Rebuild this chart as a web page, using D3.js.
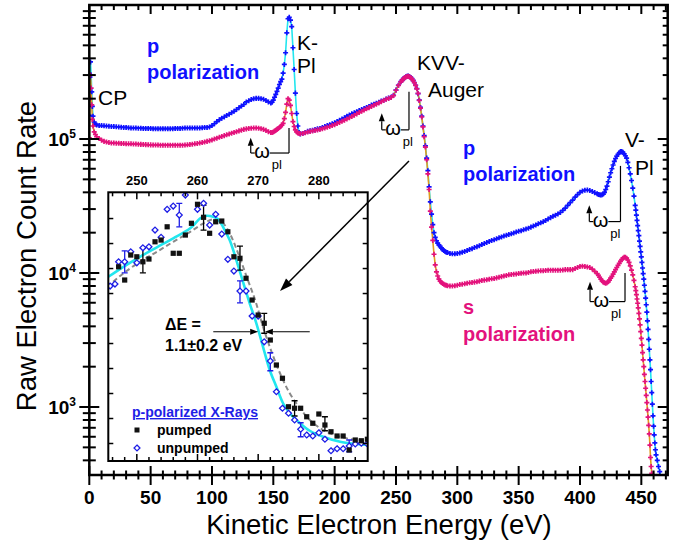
<!DOCTYPE html>
<html>
<head>
<meta charset="utf-8">
<script src="https://d3js.org/d3.v7.min.js"></script>
<style>
  body { margin: 0; background: #fff; }
  text { font-family: "Liberation Sans", Arial, sans-serif; }
</style>
</head>
<body>
<svg id="chart" width="686" height="549"></svg>
<script>
// main spectra: [kinetic energy (eV), count rate (10^3 counts)]
const pPolarization = [
  [0,150],[0.5,290],[1,376],[1.5,300],[2,225],[2.5,175],[3,148],[4,134],[5,129],[6,127],
  [8,126],[10,126],[12,125.5],[14,125],[16,124.5],[18,124],[20,124],[22,123.5],[24,123],[26,122.5],[28,122],[30,122],
  [32,121.5],[34,121],[36,121],[38,121],[40,120.5],[42,120.5],[44,120],[46,120],[48,120],[50,120],[52,119.5],[54,119.5],
  [56,119.5],[58,119.5],[60,119.5],[62,119.5],[64,119.5],[66,119.5],[68,119.5],[70,120],[72,120],[74,120],[76,120.5],
  [78,121],[80,121],[82,121],[84,121],[86,121],[88,121],[90,121],[92,121.5],[94,122],[96,122],[98,123],[100,126],
  [102,130],[104,135],[106,139],[108,143],[110,146],[112,150],[114,153],[116,157],[118,161],[120,166],[122,171],
  [124,176],[126,181],[128,189],[130,193],[132,197],[134,200],[136,201],[138,201],[140,200],[142,198],[144,194],
  [146,189],[148,186],
  [149,188],[150,195],[151,205],[152,215],[153,227],[154,240],[155,255],[156,268],[157,280],[158,310],[159,360],
  [160,440],[161,620],[162,790],[163,810],[164,770],[165,690],[166,480],[167,330],[168,220],[169,155],[170,125],
  [171,112],[172,109],
  [174,110],[176,112],[178,114],[180,115],[182,116],[184,117.5],[186,119],[188,120],[190,122],[192,124],[194,126],
  [196,128],[198,130],[200,132],[202,135],[204,138],[206,141],[208,144],[210,148],[212,151],[214,154],[216,157],
  [218,160],[220,163],[222,166],[224,169],[226,172],[228,175],[230,179],[232,182],[234,185],[236,188],[238,192],
  [240,195],[242,199],[244,202],[246,205],[248,212],[250,232],[252,252],[254,268],
  [255,275],[256,282],[257,287],[258,291],[259,294],[260,295],[261,293],[262,288],[263,282],[264,274],[265,264],
  [266,252],[267,238],[268,218],[269,195],[270,172],[271,148],[272,125],[273,106],[274,89],[275,72],[276,58],
  [277,44],[278,34],[279,27.5],[280,23],[281,20],[282,18.5],[283,17.4],[284,16.7],[285,16.2],[286,15.8],[287,15.4],
  [288,15.0],[289,14.7],[290,14.5],[291,14.3],[292,14.2],
  [294,14.0],[296,13.9],[298,13.9],[300,14.0],[302,14.1],[304,14.3],[306,14.5],[308,14.7],[310,15.0],[312,15.2],
  [314,15.5],[316,15.7],[318,16.0],[320,16.3],[322,16.6],[324,16.9],[326,17.2],[328,17.5],[330,17.7],[332,18.0],
  [334,18.3],[336,18.6],[338,18.9],[340,19.1],[342,19.4],[344,19.6],[346,19.9],[348,20.2],[350,20.5],[352,20.7],
  [354,21.0],[356,21.3],[358,21.6],[360,22.0],[362,22.4],[364,22.8],[366,23.3],[368,23.7],[370,24.1],[372,24.7],
  [374,25.3],[376,25.9],[378,26.5],[380,27.0],[382,27.6],[384,28.3],[386,29.3],[388,30.5],[390,32.0],[392,33.5],
  [394,35.0],[396,36.8],[398,38.5],[400,40.0],[402,41.0],[404,41.5],[406,41.6],[408,41.3],[410,40.6],[412,39.8],
  [414,39.0],[415,38.6],[416,38.3],[417,38.2],[418,38.3],[419,38.8],[420,40.0],[421,42.0],[422,44.5],[423,48],
  [424,52],[425,56],[426,60],[427,64],[428,68],[429,71.5],[430,74.5],[431,77],[432,79],[433,80.5],[434,80.5],
  [435,79.5],[436,77.5],[437,75],[438,72],[439,67],[440,61],[441,55],[442,49],[443,43],[444,37.5],[445,32],
  [445.5,29.5],[446,27],[446.5,24.7],[447,22.6],[447.5,20.7],[448,19],[448.5,17.3],[449,15.8],[449.5,14.4],
  [450,13.2],[450.5,12],[451,10.9],[451.5,9.9],[452,9.0],[452.5,8.1],[453,7.3],[453.5,6.5],[454,5.8],[454.5,5.1],
  [455,4.4],[455.5,3.8],[456,3.2],[456.5,2.7],[457,2.25],[457.5,1.9],[458,1.55],[458.5,1.28],[459,1.05],
  [459.5,0.86],[460,0.72],[460.5,0.62],[461,0.54],[461.5,0.48],[462,0.44],[463,0.4],[464,0.36],[465,0.33],[466,0.3]
];

const sPolarization = [
  [0,102],[0.5,200],[1,300],[1.5,240],[2,180],[2.5,140],[3,125],[4,113],[5,108],[6,104],
  [8,101],[10,98],[12,96],[14,95],[16,94],[18,93.5],[20,93.2],[22,93],[24,92.8],[26,92.6],[28,92.4],[30,92.2],
  [32,92],[34,92],[36,91.8],[38,91.6],[40,91.4],[42,91.2],[44,91],[46,90.8],[48,90.6],[50,90.4],[52,90.3],
  [54,90.2],[56,90.1],[58,90],[60,90],[62,90],[64,90],[66,90],[68,90],[70,90],[72,90],[74,90],[76,90],[78,90.2],
  [80,90.5],[82,91],[84,91.5],[86,92],[88,92.6],[90,93.3],[92,94],[94,95],[96,96],[98,97],[100,98.5],[102,100],
  [104,101.5],[106,103],[108,104.5],[110,106],[112,107.5],[114,109],[116,110.5],[118,112],[120,113.5],[122,115],
  [124,116.5],[126,118],[128,119],[130,120],[132,120.5],[134,121],[136,121],[138,120.5],[140,119.5],[142,118],
  [144,116],[146,113.5],[148,112],
  [149,112],[150,113],[151,114.5],[152,116],[153,118],[154,120],[155,122],[156,124],[157,127],[158,131],[159,142],
  [160,158],[161,182],[162,200],[163,195],[164,178],[165,155],[166,135],[167,124],[168,117],[169,113],[170,111],
  [171,110],[172,109.5],
  [174,110],[176,111.5],[178,113],[180,114],[182,115],[184,116],[186,117],[188,118],[190,119.5],[192,121],
  [194,122.5],[196,124],[198,126],[200,128],[202,130.5],[204,133],[206,135.5],[208,138],[210,141],[212,144],
  [214,147],[216,150.5],[218,154],[220,157.5],[222,161],[224,164.5],[226,168],[228,171.5],[230,175],[232,178.5],
  [234,182],[236,186],[238,190],[240,194],[242,198],[244,201],[246,204],[248,211],[250,231],[252,251],[254,267],
  [255,274],[256,281],[257,286],[258,290],[259,293],[260,294],[261,292],[262,287],[263,281],[264,273],[265,263],
  [266,251],[267,237],[268,219],[269,194],[270,170],[271,146],[272,123],[273,104],[274,87],[275,70],[276,55],
  [277,42],[278,29],[279,22],[280,17.5],[281,13.8],[282,11.5],[283,10.2],[284,9.5],[285,9.0],[286,8.7],[287,8.5],
  [288,8.35],[289,8.25],[290,8.15],[291,8.1],[292,8.05],
  [294,8.0],[296,8.0],[298,8.05],[300,8.1],[302,8.2],[304,8.25],[306,8.3],[308,8.4],[310,8.45],[312,8.5],
  [314,8.55],[316,8.6],[318,8.7],[320,8.8],[322,8.85],[324,8.9],[326,9.0],[328,9.05],[330,9.1],[332,9.2],
  [334,9.3],[336,9.4],[338,9.5],[340,9.6],[342,9.7],[344,9.75],[346,9.8],[348,9.85],[350,9.9],[352,9.95],
  [354,10.0],[356,10.0],[358,10.1],[360,10.2],[362,10.25],[364,10.3],[366,10.35],[368,10.4],[370,10.4],
  [372,10.45],[374,10.5],[376,10.5],[378,10.5],[380,10.5],[382,10.5],[384,10.5],[386,10.55],[388,10.6],
  [390,10.6],[392,10.6],[394,10.6],[396,10.8],[398,11.0],[400,11.2],[402,11.25],[404,11.2],[406,11.1],[408,11.0],
  [410,10.7],[412,10.3],[414,9.9],[415,9.6],[416,9.3],[417,9.0],[418,8.75],[419,8.55],[420,8.45],[421,8.4],
  [422,8.45],[423,8.6],[424,8.85],[425,9.15],[426,9.45],[427,9.8],[428,10.2],[429,10.6],[430,11.0],[431,11.4],
  [432,11.8],[433,12.2],[434,12.6],[435,12.9],[436,13.1],[437,13.1],[438,12.9],[439,12.5],[440,12.0],[441,11.3],
  [442,10.5],[443,9.7],[444,8.8],[445,7.9],
  [445.5,7.4],[446,6.9],[446.5,6.4],[447,5.95],[447.5,5.5],[448,5.0],[448.5,4.55],[449,4.1],[449.5,3.65],
  [450,3.25],[450.5,2.9],[451,2.55],[451.5,2.25],[452,2.0],[452.5,1.75],[453,1.55],[453.5,1.38],[454,1.22],
  [454.5,1.08],[455,0.95],[455.5,0.84],[456,0.73],[456.5,0.63],[457,0.52],[457.5,0.42],[458,0.36],[458.5,0.32],
  [459,0.29]
];

// inset (KVV edge), intensity in arbitrary linear units
const insetPumped = [
  [247,8.07],[248,7.54],[249,8.54],[250,8.47],[251,8.27],[252,8.38],[253,9.07],[254,9.14],[255,9.67],[256,8.61],
  [257,8.61],[258,9.34],[259,9.81],[260,10.57],[261,10.05],[262,9.41],[263,9.87],[264,9.90],[265,9.47],[266,8.47],
  [267,8.41],[268,7.61],[269,6.74],[270,6.14],[271,5.81],[272,5.14],[273,4.14],[274,3.61],[275,2.47],[276,2.41],
  [277,2.41],[278,2.07],[279,1.81],[280,2.18],[281,1.74],[282,1.47],[283,1.30],[284,1.30],[285,0.74],[286,1.14],
  [287,1.11],[288,1.17]
];
const insetUnpumped = [
  [245.6,7.30],[246.4,7.38],[247,8.27],[248,8.27],[249,8.67],[250,8.23],[251,8.83],[252,8.87],[253,9.54],[254,9.25],
  [255,10.37],[256,10.50],[257,10.14],[258,10.94],[260,10.37],[261,10.61],[262,9.74],[263,10.17],[264,9.38],
  [265,8.37],[266,7.90],[267,7.10],[268,7.10],[269,6.10],[270,6.10],[271,5.07],[272,4.30],[273,3.07],[274,2.41],
  [275,2.21],[276,1.94],[277,1.57],[278,1.34],[279,1.30],[280,1.43],[281,1.17],[282,0.71],[283,0.79],[284,0.79],
  [285,0.90],[286,0.98],[287,1.01],[288,0.98]
];
// [energy, low, high]
const pumpedErrors = [[251,7.83,8.81],[261,9.54,10.54],[267,7.94,8.90],[271,5.41,6.21],[276,2.10,2.71],[281,1.51,2.07]];
const unpumpedErrors = [[248,7.83,8.71],[257,9.67,10.61],[267,6.63,7.51],[272,3.91,4.63],[277,1.27,1.83],[285,0.67,1.14]];
const unpumpedFit = [
  [245.3,7.67],[247.8,8.07],[250.5,8.47],[253.3,8.85],[256,9.21],[258.8,9.61],[260.4,10.0],[261.2,10.1],
  [262.6,10.07],[263.4,9.97],[264.2,9.67],[265.3,9.14],[266.4,8.34],[267.5,7.47],[268.6,6.61],[269.7,5.81],
  [270.8,4.87],[271.9,3.94],[273,3.27],[274.1,2.61],[275.2,2.21],[276.9,1.81],[278.5,1.51],[280.7,1.27],
  [283.5,1.07],[286.2,0.98],[288,0.94]
];
const pumpedFit = [
  [246.1,7.47],[247.8,7.81],[250.5,8.27],[253.3,8.67],[256,9.07],[258.8,9.47],[261,9.81],[262.6,9.97],[264,9.87],
  [265.3,9.41],[266.7,8.61],[268.1,7.67],[269.5,6.74],[270.8,5.67],[272.2,4.67],[273.6,3.81],[275.2,3.01],
  [276.9,2.41],[278.5,1.94],[280.7,1.54],[283.5,1.27],[286.2,1.14],[288,1.10]
];

const xMajorTicks = [0, 50, 100, 150, 200, 250, 300, 350, 400, 450];
const yMajorTicks = [1e3, 1e4, 1e5];
const insetTickLabels = [250, 260, 270, 280];

// plasmon-loss brackets: energies (eV) and count levels (10^3)
const omegaMarks = [
  {left: 131.6, right: 162.8, base: 78.6, arrowTop: 102, rightTop: 121},
  {left: 238.4, right: 260.6, base: 117, arrowTop: 156, rightTop: 225},
  {left: 407.6, right: 433.0, base: 24.2, arrowTop: 32.1, rightTop: 63},
  {left: 408.2, right: 436.7, base: 6.12, arrowTop: 8.61, rightTop: 10.0}
];

const BLUE = "#1010ff", PINK = "#e3127d", CYAN = "#22e6ee", ORANGE = "#e39a1e";

const svg = d3.select("#chart");
const x = d3.scaleLinear().domain([0, 471.5]).range([89.3, 667.7]);
const y = d3.scaleLog().domain([311, 1e6]).range([475, 5]);
const L = x.range()[0], R = x.range()[1], T = y.range()[1], B = y.range()[0];

svg.append("clipPath").attr("id", "plotclip").append("rect")
  .attr("x", L).attr("y", T).attr("width", R - L).attr("height", B - T);

const plot = svg.append("g").attr("clip-path", "url(#plotclip)");
const line = d3.line().x(d => x(d[0])).y(d => y(d[1] * 1e3));

plot.append("path").datum(pPolarization).attr("d", line)
  .attr("fill", "none").attr("stroke", CYAN).attr("stroke-width", 1.6);
plot.append("path").datum(sPolarization).attr("d", line)
  .attr("fill", "none").attr("stroke", ORANGE).attr("stroke-width", 1.6);

const cross = d3.symbol().type(d3.symbolCross).size(14);
plot.append("g").selectAll("path").data(pPolarization).enter().append("path")
  .attr("d", cross).attr("transform", d => "translate(" + x(d[0]) + "," + y(d[1] * 1e3) + ")")
  .attr("fill", BLUE);
plot.append("g").selectAll("path").data(sPolarization).enter().append("path")
  .attr("d", cross).attr("transform", d => "translate(" + x(d[0]) + "," + y(d[1] * 1e3) + ")")
  .attr("fill", PINK);

// frame and ticks
const axes = svg.append("g").attr("stroke", "#000").attr("stroke-width", 2);
axes.append("rect").attr("x", L).attr("y", T).attr("width", R - L).attr("height", B - T)
  .attr("fill", "none").attr("stroke-width", 2.5);

d3.range(0, 471, 10).forEach(v => {
  const major = v % 50 === 0;
  const px = x(v);
  axes.append("line").attr("x1", px).attr("x2", px)
    .attr("y1", major ? B - 9 : B - 4.5).attr("y2", major ? B + 10 : B + 4.5);
  axes.append("line").attr("x1", px).attr("x2", px)
    .attr("y1", T).attr("y2", major ? T + 9 : T + 5);
});
xMajorTicks.forEach(v => {
  svg.append("text").attr("x", x(v)).attr("y", 504).attr("text-anchor", "middle")
    .attr("font-weight", "bold").attr("font-size", 19).text(v);
});

[100, 1e3, 1e4, 1e5].forEach(dec => {
  d3.range(2, 10).forEach(k => {
    const v = k * dec;
    if (v < y.domain()[0] || v > 1e6) return;
    const py = y(v);
    axes.append("line").attr("x1", L - 6.5).attr("x2", L + 6.5).attr("y1", py).attr("y2", py);
    axes.append("line").attr("x1", R - 5).attr("x2", R).attr("y1", py).attr("y2", py);
  });
});
yMajorTicks.forEach(v => {
  const py = y(v);
  axes.append("line").attr("x1", L - 10).attr("x2", L + 10).attr("y1", py).attr("y2", py);
  axes.append("line").attr("x1", R - 10).attr("x2", R).attr("y1", py).attr("y2", py);
  const t = svg.append("text").attr("x", 76).attr("y", py + 6.5).attr("text-anchor", "end")
    .attr("font-weight", "bold").attr("font-size", 19);
  t.append("tspan").text("10");
  t.append("tspan").attr("font-size", 12).attr("dy", -8).text(Math.round(Math.log10(v)));
});

svg.append("text").attr("x", 379).attr("y", 534).attr("text-anchor", "middle")
  .attr("font-size", 27.5).text("Kinetic Electron Energy (eV)");
svg.append("text").attr("transform", "translate(36,256) rotate(-90)").attr("text-anchor", "middle")
  .attr("font-size", 27.5).text("Raw Electron Count Rate");

// peak labels
function label(px, py, txt, opts) {
  const t = svg.append("text").attr("x", px).attr("y", py).text(txt)
    .attr("font-size", opts && opts.size || 21);
  if (opts && opts.bold) t.attr("font-weight", "bold");
  if (opts && opts.color) t.attr("fill", opts.color);
  return t;
}
label(98, 105, "CP");
label(297, 50, "K-");
label(297, 73, "Pl");
label(417, 70, "KVV-");
label(428, 97, "Auger");
label(625, 147, "V-");
label(635, 175, "Pl");
label(147, 53, "p", {bold: true, size: 20, color: BLUE});
label(147, 79, "polarization", {bold: true, size: 20, color: BLUE});
label(463, 155, "p", {bold: true, size: 20, color: BLUE});
label(463, 181, "polarization", {bold: true, size: 20, color: BLUE});
label(463, 314, "s", {bold: true, size: 20, color: PINK});
label(463, 341, "polarization", {bold: true, size: 20, color: PINK});

function arrow(g, x1, y1, x2, y2, len, half, w) {
  const a = Math.atan2(y2 - y1, x2 - x1);
  const bx = x2 - len * Math.cos(a), by = y2 - len * Math.sin(a);
  g.append("line").attr("x1", x1).attr("y1", y1).attr("x2", bx).attr("y2", by)
    .attr("stroke", "#000").attr("stroke-width", w);
  const ox = -Math.sin(a) * half, oy = Math.cos(a) * half;
  g.append("path").attr("d", "M" + x2 + "," + y2 + "L" + (bx + ox) + "," + (by + oy) + "L" + (bx - ox) + "," + (by - oy) + "Z")
    .attr("fill", "#000");
}

const ann = svg.append("g");
omegaMarks.forEach(m => {
  const xl = x(m.left), xr = x(m.right), yb = y(m.base * 1e3);
  arrow(ann, xl, yb, xl, y(m.arrowTop * 1e3), 8, 3, 1.2);
  ann.append("line").attr("x1", xl).attr("x2", xl + 4).attr("y1", yb).attr("y2", yb)
    .attr("stroke", "#000").attr("stroke-width", 1.2);
  ann.append("text").attr("x", xl + 3.5).attr("y", yb + 5).attr("font-family", "Liberation Serif")
    .attr("font-size", 20).text("ω");
  ann.append("line").attr("x1", xl + 19).attr("x2", xr).attr("y1", yb).attr("y2", yb)
    .attr("stroke", "#000").attr("stroke-width", 1.2);
  ann.append("line").attr("x1", xr).attr("x2", xr).attr("y1", yb).attr("y2", y(m.rightTop * 1e3))
    .attr("stroke", "#000").attr("stroke-width", 1.2);
  ann.append("text").attr("x", xl + 21).attr("y", yb + 16).attr("font-size", 13).text("pl");
});

// inset
const ix = d3.scaleLinear().domain([245.3, 288.05]).range([108.3, 367.7]);
const iy = d3.scaleLinear().domain([0.3, 11.05]).range([461, 192.3]);
const iL = 108.3, iR = 367.7, iT = 192.3, iB = 461;
const inset = svg.append("g");
inset.append("rect").attr("x", iL).attr("y", iT).attr("width", iR - iL).attr("height", iB - iT)
  .attr("fill", "#fff");
svg.append("clipPath").attr("id", "insetclip").append("rect")
  .attr("x", iL).attr("y", iT).attr("width", iR - iL).attr("height", iB - iT);
const ip = inset.append("g").attr("clip-path", "url(#insetclip)");
const iline = d3.line().x(d => ix(d[0])).y(d => iy(d[1])).curve(d3.curveCatmullRom);

ip.append("path").datum(pumpedFit).attr("d", iline).attr("fill", "none")
  .attr("stroke", "#8a8a8a").attr("stroke-width", 2).attr("stroke-dasharray", "5,3");
ip.append("path").datum(unpumpedFit).attr("d", iline).attr("fill", "none")
  .attr("stroke", CYAN).attr("stroke-width", 2.6);

function errorBars(data, color) {
  data.forEach(e => {
    const px = ix(e[0]);
    ip.append("line").attr("x1", px).attr("x2", px).attr("y1", iy(e[1])).attr("y2", iy(e[2]))
      .attr("stroke", color).attr("stroke-width", 1.3);
    [e[1], e[2]].forEach(v => ip.append("line").attr("x1", px - 3).attr("x2", px + 3)
      .attr("y1", iy(v)).attr("y2", iy(v)).attr("stroke", color).attr("stroke-width", 1.3));
  });
}
errorBars(pumpedErrors, "#000");
errorBars(unpumpedErrors, "#1e1ee6");

const diamond = d3.symbol().type(d3.symbolDiamond2).size(22);
ip.append("g").selectAll("path").data(insetUnpumped).enter().append("path")
  .attr("d", diamond).attr("transform", d => "translate(" + ix(d[0]) + "," + iy(d[1]) + ")")
  .attr("fill", "#fff").attr("stroke", "#1e1ee6").attr("stroke-width", 1.3);
ip.append("g").selectAll("rect").data(insetPumped).enter().append("rect")
  .attr("x", d => ix(d[0]) - 2.6).attr("y", d => iy(d[1]) - 2.6).attr("width", 5.2).attr("height", 5.2)
  .attr("fill", "#111");

const iaxes = inset.append("g").attr("stroke", "#000").attr("stroke-width", 1.5);
d3.range(246, 288, 2).forEach(v => {
  const major = v % 10 === 0;
  iaxes.append("line").attr("x1", ix(v)).attr("x2", ix(v)).attr("y1", iT).attr("y2", iT + (major ? 7 : 4));
  iaxes.append("line").attr("x1", ix(v)).attr("x2", ix(v)).attr("y1", iB).attr("y2", iB - (major ? 7 : 4));
});
d3.range(1, 11).forEach(v => {
  iaxes.append("line").attr("x1", iL).attr("x2", iL + 5).attr("y1", iy(v)).attr("y2", iy(v));
  iaxes.append("line").attr("x1", iR - 5).attr("x2", iR).attr("y1", iy(v)).attr("y2", iy(v));
});
inset.append("rect").attr("x", iL).attr("y", iT).attr("width", iR - iL).attr("height", iB - iT)
  .attr("fill", "none").attr("stroke", "#000").attr("stroke-width", 2);
insetTickLabels.forEach(v => {
  inset.append("text").attr("x", ix(v)).attr("y", 185).attr("text-anchor", "middle")
    .attr("font-weight", "bold").attr("font-size", 13).text(v);
});

// delta E annotation
inset.append("text").attr("x", 165).attr("y", 330).attr("font-weight", "bold").attr("font-size", 16).text("ΔE =");
inset.append("text").attr("x", 165).attr("y", 351).attr("font-weight", "bold").attr("font-size", 16).text("1.1±0.2 eV");
arrow(inset, ix(262.6), iy(5.47), ix(270.0), iy(5.47), 8, 3, 1.2);
arrow(inset, ix(278.5), iy(5.47), ix(271.1), iy(5.47), 8, 3, 1.2);

// legend
inset.append("text").attr("x", 132).attr("y", 417).attr("font-weight", "bold").attr("font-size", 14)
  .attr("fill", "#1e1ee6").attr("text-decoration", "underline").text("p-polarized X-Rays");
inset.append("rect").attr("x", 134.5).attr("y", 427.5).attr("width", 5).attr("height", 5).attr("fill", "#111");
inset.append("text").attr("x", 157).attr("y", 435).attr("font-weight", "bold").attr("font-size", 14).text("pumped");
inset.append("path").attr("d", diamond).attr("transform", "translate(137,448)")
  .attr("fill", "#fff").attr("stroke", "#1e1ee6").attr("stroke-width", 1.3);
inset.append("text").attr("x", 157).attr("y", 453).attr("font-weight", "bold").attr("font-size", 14).text("unpumped");

// arrow from KVV edge to the inset
arrow(svg, x(260.6), y(68.5e3), x(155.5), y(7.35e3), 13, 4.5, 1.5);
</script>
</body>
</html>
